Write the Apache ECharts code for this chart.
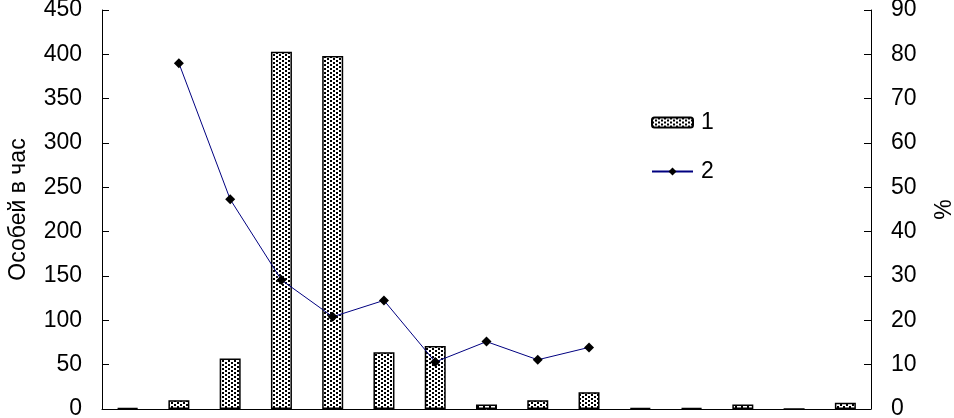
<!DOCTYPE html>
<html>
<head>
<meta charset="utf-8">
<script src="https://cdn.jsdelivr.net/npm/echarts@6/dist/echarts.min.js"></script>
<style>
  html, body { margin: 0; padding: 0; background: #fff; }
  #chart { width: 954px; height: 418px; }
</style>
</head>
<body>
<div id="chart"></div>
<script>
  // данные с рисунка
  const categories = ['1', '2', '3', '4', '5', '6', '7', '8', '9', '10', '11', '12', '13', '14', '15'];
  const perHour = [1, 10, 57, 403, 398, 64, 71, 5, 10, 19, 1, 1, 5, 0, 7];
  const percent = [null, 78, 47.3, 29.1, 20.8, 24.5, 10.6, 15.2, 11.1, 13.9, null, null, null, null, null];
  const leftTicks = [0, 450, 50];
  const rightTicks = [0, 90, 10];

  // точечная заливка столбиков
  function dotPattern() {
    const c = document.createElement('canvas');
    c.width = 6;
    c.height = 4;
    const ctx = c.getContext('2d');
    ctx.fillStyle = '#fff';
    ctx.fillRect(0, 0, 6, 4);
    ctx.fillStyle = '#000';
    ctx.fillRect(0, 0, 2, 2);
    ctx.fillRect(3, 2, 2, 2);
    return c;
  }

  const font = '"Liberation Sans", Arial, sans-serif';
  const myChart = echarts.init(document.getElementById('chart'));
  const option = {
    animation: false,
    textStyle: { fontFamily: font },
    grid: { left: 102, right: 83, top: 10, bottom: 9, containLabel: false, outerBoundsMode: 'none' },
    legend: {
      orient: 'vertical',
      left: 646,
      top: 106,
      itemWidth: 41,
      itemHeight: 10,
      itemGap: 26,
      textStyle: { fontSize: 23, color: '#000', fontFamily: font, padding: [0, 0, 0, 3] },
      data: ['1', '2']
    },
    xAxis: {
      type: 'category',
      data: categories,
      axisLine: { lineStyle: { color: '#000', width: 1 } },
      axisTick: { inside: true, length: 8, lineStyle: { color: '#000' } },
      axisLabel: { show: false },
      splitLine: { show: false }
    },
    yAxis: [
      {
        type: 'value',
        min: leftTicks[0],
        max: leftTicks[1],
        interval: leftTicks[2],
        name: 'Особей в час',
        nameLocation: 'middle',
        nameGap: 72,
        nameTextStyle: { fontSize: 23, color: '#000', fontFamily: font },
        axisLine: { show: true, lineStyle: { color: '#000' } },
        axisTick: { show: true, inside: true, length: 7, lineStyle: { color: '#000' } },
        axisLabel: { fontSize: 23, color: '#000', margin: 20, fontFamily: font },
        splitLine: { show: false }
      },
      {
        type: 'value',
        min: rightTicks[0],
        max: rightTicks[1],
        interval: rightTicks[2],
        name: '%',
        nameLocation: 'middle',
        nameGap: 62,
        nameRotate: 90,
        nameTextStyle: { fontSize: 23, color: '#000', fontFamily: font },
        axisLine: { show: true, lineStyle: { color: '#000' } },
        axisTick: { show: true, inside: true, length: 7, lineStyle: { color: '#000' } },
        axisLabel: { fontSize: 23, color: '#000', margin: 20, fontFamily: font },
        splitLine: { show: false }
      }
    ],
    series: [
      {
        name: '1',
        type: 'bar',
        data: perHour,
        barWidth: 21,
        itemStyle: {
          color: { image: dotPattern(), repeat: 'repeat' },
          borderColor: '#000',
          borderWidth: 1.5
        }
      },
      {
        name: '2',
        type: 'line',
        yAxisIndex: 1,
        data: percent,
        symbol: 'diamond',
        symbolSize: 10,
        showAllSymbol: true,
        itemStyle: { color: '#000' },
        lineStyle: { color: '#000080', width: 1 }
      }
    ]
  };
  myChart.setOption(option);
</script>
</body>
</html>
